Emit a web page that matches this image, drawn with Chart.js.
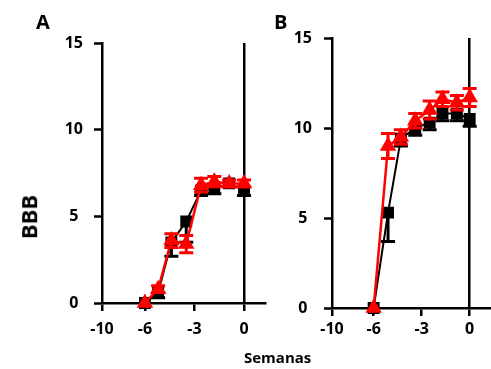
<!DOCTYPE html>
<html>
<head>
<meta charset="utf-8">
<script src="https://cdn.jsdelivr.net/npm/chart.js@4"></script>
<style>
  body { margin: 0; width: 491px; height: 369px; overflow: hidden; background: #fff; position: relative; font-family: "Open Sans", sans-serif; }
  canvas { position: absolute; top: 0; }
  #chartA { left: 0; }
  #chartB { left: 240px; }
  .lbl { position: absolute; font-weight: bold; color: #000; }
</style>
</head>
<body>
<canvas id="chartA" width="275" height="345"></canvas>
<canvas id="chartB" width="260" height="345"></canvas>
<div class="lbl" style="left:36px;top:8px;font-size:20px;">A</div>
<div class="lbl" style="left:274px;top:8px;font-size:20px;">B</div>
<div class="lbl" style="left:6px;top:202px;font-size:22px;transform:rotate(-90deg);">BBB</div>
<div class="lbl" style="left:244px;top:347px;font-size:15px;">Semanas</div>
<script>
// Semanas (eje con corte entre -10 y -6)
const xTickPos = [-8.6, -6, -3, 0];
const xTickLabels = ['-10', '-6', '-3', '0'];

// Panel A
const semanasA = [-6, -5.2, -4.4, -3.5, -2.6, -1.8, -0.9, 0];
const negroA = [0, 0.6, 3.5, 4.7, 6.5, 6.6, 6.9, 6.5];
const negroErrA = [0, 0.3, 0.8, 1.2, 0.3, 0.3, 0.2, 0.3];
const rojoA = [0, 0.8, 3.6, 3.4, 6.8, 7.0, 6.9, 6.9];
const rojoErrA = [0, 0.2, 0.4, 0.5, 0.4, 0.3, 0.2, 0.2];

// Panel B
const semanasB = [-6, -5.1, -4.3, -3.4, -2.5, -1.7, -0.8, 0];
const negroB = [0, 5.3, 9.4, 10.0, 10.3, 10.8, 10.8, 10.5];
const negroErrB = [0, 1.6, 0.4, 0.4, 0.4, 0.4, 0.4, 0.4];
const rojoB = [0, 9.0, 9.5, 10.4, 11.0, 11.6, 11.4, 11.7];
const rojoErrB = [0, 0.7, 0.4, 0.4, 0.5, 0.4, 0.4, 0.5];

const font = { family: '"Open Sans", sans-serif', size: 16, weight: 'bold' };

// barras de error dibujadas con las escalas del gráfico
const errorBars = {
    id: 'errorBars',
    afterDatasetDraw(chart, args) {
        const ds = chart.data.datasets[args.index];
        if (!ds.errors) return;
        const ctx = chart.ctx;
        const xs = chart.scales.x, ys = chart.scales.y;
        ctx.save();
        ctx.strokeStyle = ds.borderColor;
        ctx.lineWidth = 3;
        ds.data.forEach((p, i) => {
            const e = ds.errors[i];
            if (!e) return;
            const px = xs.getPixelForValue(p.x);
            const top = ys.getPixelForValue(ds.soloAbajo ? p.y : p.y + e);
            const bot = ys.getPixelForValue(p.y - e);
            ctx.beginPath();
            ctx.moveTo(px, top); ctx.lineTo(px, bot);
            if (!ds.soloAbajo) { ctx.moveTo(px - 7, top); ctx.lineTo(px + 7, top); }
            ctx.moveTo(px - 7, bot); ctx.lineTo(px + 7, bot);
            ctx.stroke();
        });
        ctx.restore();
    }
};

function makeChart(id, semanas, negro, negroErr, rojo, rojoErr, g) {
    const pts = (ys) => semanas.map((x, i) => ({ x: x, y: ys[i] }));
    new Chart(document.getElementById(id), {
        type: 'line',
        data: {
            datasets: [{
                data: pts(negro),
                errors: negroErr,
                soloAbajo: true,
                borderColor: '#000',
                backgroundColor: '#000',
                borderWidth: 2,
                pointStyle: 'rect',
                pointRadius: 7,
                order: 1,
                clip: false
            }, {
                data: pts(rojo),
                errors: rojoErr,
                borderColor: '#ff0000',
                backgroundColor: '#ff0000',
                borderWidth: 2.5,
                pointStyle: 'triangle',
                pointRadius: 7,
                order: 0,
                clip: false
            }]
        },
        options: {
            responsive: false,
            animation: false,
            layout: { padding: { top: g.top, right: g.right, left: 0, bottom: 0 } },
            plugins: { legend: { display: false }, tooltip: { enabled: false } },
            scales: {
                x: {
                    type: 'linear',
                    min: -8.6,
                    max: 1.3,
                    afterBuildTicks: s => { s.ticks = xTickPos.map(v => ({ value: v })); },
                    afterFit: s => { s.height = g.xh; },
                    ticks: {
                        color: '#000',
                        font: font,
                        padding: g.xpad,
                        maxRotation: 0,
                        callback: (v, i) => xTickLabels[i]
                    },
                    grid: {
                        color: c => (c.tick && c.tick.value === 0) ? '#000' : 'rgba(0,0,0,0)',
                        lineWidth: 2.5,
                        tickColor: '#000',
                        tickLength: 8,
                        tickWidth: 2.5
                    },
                    border: { color: '#000', width: 2.5 }
                },
                y: {
                    min: 0,
                    max: 15,
                    afterFit: s => { s.width = g.yw; },
                    ticks: {
                        stepSize: 5,
                        color: '#000',
                        font: font,
                        padding: g.ypad,
                        crossAlign: 'center'
                    },
                    grid: {
                        color: 'rgba(0,0,0,0)',
                        tickColor: '#000',
                        tickLength: 8,
                        tickWidth: 2.5
                    },
                    border: { color: '#000', width: 2.5 }
                }
            }
        },
        plugins: [errorBars]
    });
}

makeChart('chartA', semanasA, negroA, negroErrA, rojoA, rojoErrA,
    { top: 43, right: 8, yw: 102, xh: 42, xpad: 9, ypad: 11 });
makeChart('chartB', semanasB, negroB, negroErrB, rojoB, rojoErrB,
    { top: 38, right: 6, yw: 92, xh: 37, xpad: 4, ypad: 12 });
</script>
</body>
</html>
